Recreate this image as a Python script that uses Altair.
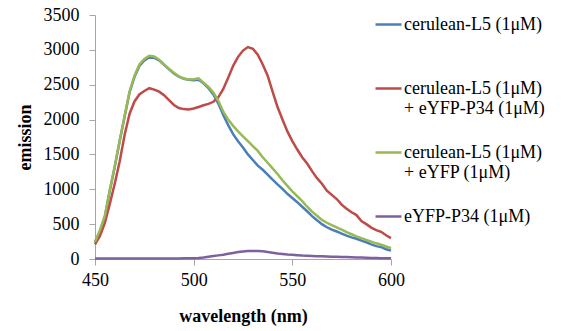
import altair as alt
import pandas as pd

# wavelength grid (nm)
wavelength = [450 + 2.5 * i for i in range(61)]

cerulean = [240, 400, 610, 980, 1320, 1690, 2040, 2390, 2610, 2770,
            2850, 2890, 2885, 2850, 2785, 2720, 2660, 2615, 2585, 2570,
            2565, 2570, 2520, 2450, 2360, 2230, 2066, 1920, 1790, 1690,
            1600, 1500, 1420, 1340, 1280, 1210, 1140, 1070, 1005, 935,
            875, 815, 750, 685, 615, 555, 500, 455, 420, 395,
            365, 335, 310, 290, 263, 240, 210, 185, 170, 140, 120]

cer_p34 = [211, 330, 520, 790, 1080, 1400, 1780, 2080, 2260, 2360,
           2410, 2450, 2430, 2400, 2350, 2280, 2210, 2165, 2150, 2145,
           2160, 2180, 2205, 2225, 2255, 2320, 2440, 2600, 2770, 2900,
           2990, 3040, 3015, 2930, 2790, 2630, 2400, 2180, 2000, 1830,
           1690, 1570, 1460, 1370, 1260, 1160, 1080, 980, 920, 860,
           780, 720, 670, 630, 545, 500, 450, 415, 390, 340, 300]

cer_eyfp = [248, 410, 620, 990, 1330, 1700, 2050, 2400, 2630, 2790,
            2870, 2915, 2905, 2860, 2790, 2730, 2670, 2620, 2590, 2575,
            2580, 2590, 2530, 2470, 2390, 2270, 2113, 2000, 1910, 1830,
            1760, 1690, 1620, 1550, 1460, 1380, 1300, 1220, 1130, 1050,
            970, 900, 830, 750, 680, 620, 560, 520, 485, 455,
            420, 385, 355, 325, 300, 275, 250, 225, 205, 180, 155]

eyfp_p34 = [8, 8, 8, 8, 8, 8, 8, 8, 8, 8,
            8, 8, 8, 8, 8, 8, 8, 8, 9, 10,
            10, 14, 22, 32, 42, 52, 60, 74, 87, 99,
            107, 113, 116, 115, 110, 100, 90, 80, 72, 65,
            60, 55, 50, 47, 44, 41, 38, 36, 34, 32,
            30, 27, 25, 22, 20, 18, 15, 13, 12, 11, 10]

series_names = [
    "cerulean-L5 (1μM)|",
    "cerulean-L5 (1μM)|+ eYFP-P34 (1μM)",
    "cerulean-L5 (1μM)|+ eYFP (1μM)",
    "\u00a0eYFP-P34 (1μM)",
]
series_values = [cerulean, cer_p34, cer_eyfp, eyfp_p34]
series_colors = ["#4A7EBB", "#BE4B48", "#98B954", "#7D60A0"]

rows = []
for name, vals in zip(series_names, series_values):
    for w, v in zip(wavelength, vals):
        rows.append({"wavelength": w, "emission": v, "series": name})
df = pd.DataFrame(rows)

FONT = "Liberation Serif"
AXIS_GRAY = "#A6A6A6"

chart = alt.Chart(df).mark_line(strokeWidth=2.5).encode(
    x=alt.X("wavelength:Q",
            scale=alt.Scale(domain=[450, 600], nice=False, zero=False),
            axis=alt.Axis(values=[450, 500, 550, 600], title="wavelength (nm)",
                          format="d", grid=False, tickSize=6, labelPadding=6,
                          titlePadding=18, labelFlush=False,
                          labelFont=FONT, titleFont=FONT, labelFontSize=18,
                          titleFontSize=18, labelColor="black", titleColor="black",
                          titleFontWeight="bold", domainColor=AXIS_GRAY,
                          tickColor=AXIS_GRAY)),
    y=alt.Y("emission:Q",
            scale=alt.Scale(domain=[0, 3500], nice=False),
            axis=alt.Axis(values=[0, 500, 1000, 1500, 2000, 2500, 3000, 3500],
                          format="d", title="emission", grid=False, tickSize=6,
                          labelPadding=10, titlePadding=9,
                          labelFont=FONT, titleFont=FONT, labelFontSize=18,
                          titleFontSize=18, labelColor="black", titleColor="black",
                          titleFontWeight="bold", domainColor=AXIS_GRAY,
                          tickColor=AXIS_GRAY)),
    color=alt.Color("series:N",
                    scale=alt.Scale(domain=series_names, range=series_colors),
                    legend=alt.Legend(title=None, orient="none", legendX=279, legendY=-5,
                                      symbolType="stroke", symbolSize=676,
                                      symbolStrokeWidth=2.5, labelFont=FONT,
                                      labelFontSize=18, labelColor="black",
                                      labelLimit=300, labelOffset=1, rowPadding=20,
                                      padding=0,
                                      labelExpr="split(datum.label, '|')")),
    order=alt.Order("wavelength:Q"),
).properties(
    width=296, height=244,
    autosize=alt.AutoSizeParams(type="none"),
    padding={"left": 87, "top": 7, "right": 160, "bottom": 72},
).configure_view(strokeWidth=0)

chart.save("out.html", embed_options={"renderer": "svg", "actions": False})
